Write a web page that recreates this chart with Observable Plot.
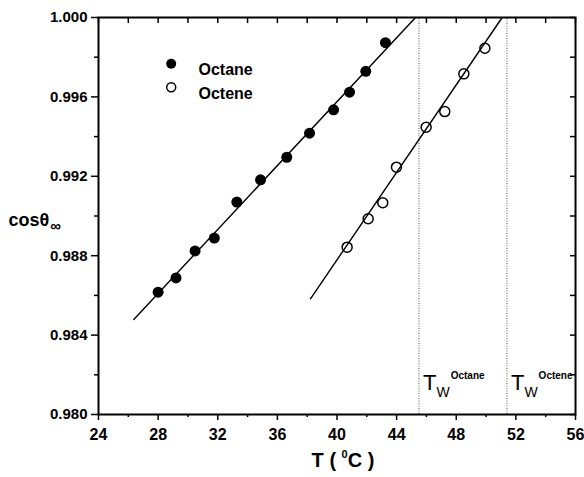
<!DOCTYPE html>
<html>
<head>
<meta charset="utf-8">
<script src="https://cdn.jsdelivr.net/npm/d3@7"></script>
<script src="https://cdn.jsdelivr.net/npm/@observablehq/plot@0.6"></script>
<style>
  html, body { margin: 0; padding: 0; background: white; }
  #chart { width: 584px; height: 477px; }
</style>
</head>
<body>
<div id="chart"></div>
<script>
// ---- data ----
const octaneT   = [28.0, 29.2, 30.48, 31.77, 33.28, 34.87, 36.63, 38.16, 39.77, 40.84, 41.93, 43.25];
const octaneCos = [0.98616, 0.98688, 0.98824, 0.98889, 0.99070, 0.99182, 0.99296, 0.99417, 0.99535, 0.99624, 0.99729, 0.99873];
const octeneT   = [40.68, 42.09, 43.07, 43.99, 45.98, 47.23, 48.51, 49.92];
const octeneCos = [0.98843, 0.98986, 0.99067, 0.99246, 0.99447, 0.99526, 0.99716, 0.99845];
const octaneFitT = [26.37, 45.27];
const octaneFitCos = [0.98479, 1.000];
const octeneFitT = [38.22, 51.08];
const octeneFitCos = [0.98583, 1.000];
const twValues = [45.5, 51.4];
const twLabels = ["T|W|Octane", "T|W|Octene"];
const seriesNames = ["Octane", "Octene"];
const xMajor = [24, 28, 32, 36, 40, 44, 48, 52, 56];
const xMinor = [26, 30, 34, 38, 42, 46, 50, 54];
const yMajor = [0.980, 0.984, 0.988, 0.992, 0.996, 1.000];
const yMinor = [0.982, 0.986, 0.990, 0.994, 0.998];
const xTitle = "T ( |0|C )";
const yTitle = "cosθ|∞";

const xDomain = [24, 56];
const yDomain = [0.980, 1.000];

const octane = octaneT.map((t, i) => ({t, c: octaneCos[i]}));
const octene = octeneT.map((t, i) => ({t, c: octeneCos[i]}));
const octaneFit = octaneFitT.map((t, i) => ({t, c: octaneFitCos[i]}));
const octeneFit = octeneFitT.map((t, i) => ({t, c: octeneFitCos[i]}));
const xAll = [...xMajor, ...xMinor];
const yAll = [...yMajor, ...yMinor];

const W = 584, H = 477, ML = 98, MR = 9, MT = 17, MB = 63;
const FW = W - ML - MR, FH = H - MT - MB;
// tick lengths converted to data units
const xPerPx = (xDomain[1] - xDomain[0]) / FW;
const yPerPx = (yDomain[1] - yDomain[0]) / FH;
const tk = {stroke: "black", strokeWidth: 1.5};

const plot = Plot.plot({
  width: W,
  height: H,
  marginLeft: ML,
  marginRight: MR,
  marginTop: MT,
  marginBottom: MB,
  style: {fontFamily: "'Liberation Sans', Arial, sans-serif", fontSize: "15px", fontWeight: "bold", color: "black", background: "white"},
  x: {domain: xDomain},
  y: {domain: yDomain},
  marks: [
    Plot.ruleX(twValues, {y1: yDomain[0], y2: yDomain[1], stroke: "#555", strokeWidth: 1, strokeDasharray: "1,1.5"}),
    Plot.line(octaneFit, {x: "t", y: "c", stroke: "black", strokeWidth: 1.4}),
    Plot.line(octeneFit, {x: "t", y: "c", stroke: "black", strokeWidth: 1.4}),
    Plot.dot(octane, {x: "t", y: "c", r: 5.5, fill: "black"}),
    Plot.dot(octene, {x: "t", y: "c", r: 5, fill: "none", stroke: "black", strokeWidth: 1.5}),
    // legend
    Plot.dot([seriesNames[0]], {frameAnchor: "top-left", dx: 72.7, dy: 46.3, r: 5, fill: "black"}),
    Plot.dot([seriesNames[1]], {frameAnchor: "top-left", dx: 72.7, dy: 69.7, r: 4.5, fill: "none", stroke: "black", strokeWidth: 1.5}),
    Plot.text([seriesNames[0]], {frameAnchor: "top-left", dx: 100, dy: 46.3, text: d => d, textAnchor: "start", fontSize: 16}),
    Plot.text([seriesNames[1]], {frameAnchor: "top-left", dx: 100, dy: 69.7, text: d => d, textAnchor: "start", fontSize: 16}),
    // T_W labels
    Plot.text(twValues, {x: d => d, frameAnchor: "bottom", text: (d, i) => twLabels[i], textAnchor: "start", dx: 4, dy: -25, fontSize: 22, fontWeight: "normal", className: "twlab"}),
    // axis titles
    Plot.text([xTitle], {frameAnchor: "bottom", text: d => d, textAnchor: "middle", dx: 6, dy: 52.6, fontSize: 20, className: "xtitle"}),
    Plot.text([yTitle], {frameAnchor: "left", text: d => d, textAnchor: "start", dx: -90, dy: 4, fontSize: 18, className: "ytitle"}),
    // axes: labels + major outward ticks
    Plot.axisX({anchor: "bottom", ticks: xMajor, tickSize: 6, tickPadding: 8, fontSize: 16, label: null, strokeWidth: 1.5}),
    Plot.axisY({anchor: "left", ticks: yMajor, tickSize: 7, tickPadding: 4, fontSize: 15, tickFormat: d3.format(".3f"), label: null, strokeWidth: 1.5}),
    // minor outward ticks (bottom, left)
    Plot.ruleX(xMinor, {x: d => d, y1: yDomain[0], y2: yDomain[0] - 3 * yPerPx, ...tk}),
    Plot.ruleY(yMinor, {y: d => d, x1: xDomain[0], x2: xDomain[0] - 4 * xPerPx, ...tk}),
    // inward ticks (top, right)
    Plot.ruleX(xAll, {x: d => d, y1: yDomain[1], y2: yDomain[1] - 6 * yPerPx, ...tk}),
    Plot.ruleY(yAll, {y: d => d, x1: xDomain[1], x2: xDomain[1] - 5 * xPerPx, ...tk}),
    Plot.frame({stroke: "black", strokeWidth: 2})
  ]
});

// rich text (sub/superscripts) for the labels
function rich(sel, builder) {
  d3.select(plot).selectAll(sel + " text").each(function () {
    const parts = this.textContent.split("|");
    this.textContent = "";
    builder(d3.select(this), parts);
  });
}
rich(".twlab", (t, p) => {
  t.append("tspan").text(p[0]);
  t.append("tspan").attr("font-size", 14).attr("dy", 7).text(p[1]);
  t.append("tspan").attr("font-size", 10).attr("font-weight", "bold").attr("dx", 1).attr("dy", -18).text(p[2]);
});
rich(".xtitle", (t, p) => {
  t.append("tspan").text(p[0]);
  t.append("tspan").attr("font-size", 11).attr("dy", -9).text(p[1]);
  t.append("tspan").attr("dy", 9).text(p[2]);
});
rich(".ytitle", (t, p) => {
  t.append("tspan").text(p[0]);
  t.append("tspan").attr("font-size", 15).attr("dx", 1).attr("dy", 5).text(p[1]);
});

document.getElementById("chart").appendChild(plot);
</script>
</body>
</html>
